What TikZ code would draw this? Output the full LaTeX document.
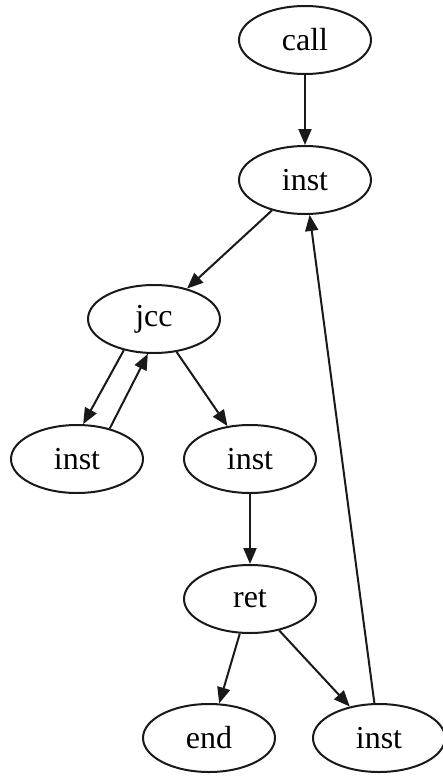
\documentclass[tikz,border=0pt]{standalone}
\usepackage{fontspec}
\setmainfont{Liberation Serif}
\usetikzlibrary{arrows.meta,shapes.geometric}
\begin{document}
\begin{tikzpicture}[x=1pt,y=-1pt,
  blk/.style={draw=black!90, line width=2pt, ellipse, minimum width=132pt,
    minimum height=68pt, inner sep=0pt, font=\fontsize{32}{36}\selectfont},
  edge/.style={draw=black!90, line width=2pt,
    -{Triangle[length=16pt,width=13pt]}}]
  \useasboundingbox (0,0) rectangle (443,776);
  \fill[white] (0,0) rectangle (443,776);

  % control-flow nodes
  \node[blk] (call) at (305,40)  {call};
  \node[blk] (i1)   at (305,180) {inst};
  \node[blk] (jcc)  at (154,319) {jcc};
  \node[blk] (il)   at (77,459)  {inst};
  \node[blk] (im)   at (250,459) {inst};
  \node[blk] (ret)  at (250,599) {ret};
  \node[blk] (end)  at (209,738) {end};
  \node[blk] (ir)   at (379,738) {inst};

  % edges
  \draw[edge] (call) -- (i1);
  \draw[edge] (i1) -- (jcc);
  \draw[edge] (jcc.226) -- (il.80);
  \draw[edge] (il.43) -- (jcc.260);
  \draw[edge] (jcc) -- (im);
  \draw[edge] (im) -- (ret);
  \draw[edge] (ret) -- (end);
  \draw[edge] (ret) -- (ir);
  \draw[edge] (ir) -- (i1);
\end{tikzpicture}
\end{document}
